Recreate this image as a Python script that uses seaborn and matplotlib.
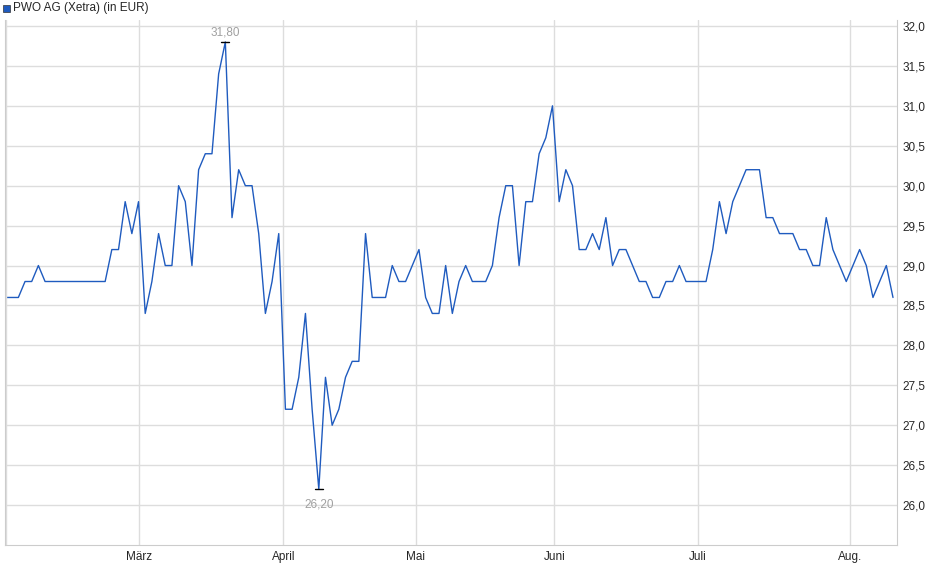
import matplotlib

matplotlib.use("Agg")

import matplotlib.pyplot as plt
import numpy as np
import pandas as pd
import seaborn as sns

prices = [
    28.6, 28.6, 28.6, 28.8, 28.8, 29.0, 28.8, 28.8, 28.8, 28.8, 28.8, 28.8, 28.8, 28.8, 28.8, 28.8,
    29.2, 29.2, 29.8, 29.4, 29.8, 28.4, 28.8, 29.4, 29.0, 29.0, 30.0, 29.8, 29.0, 30.2, 30.4, 30.4,
    31.4, 31.8, 29.6, 30.2, 30.0, 30.0, 29.4, 28.4, 28.8, 29.4, 27.2, 27.2, 27.6, 28.4, 27.2, 26.2,
    27.6, 27.0, 27.2, 27.6, 27.8, 27.8, 29.4, 28.6, 28.6, 28.6, 29.0, 28.8, 28.8, 29.0, 29.2, 28.6,
    28.4, 28.4, 29.0, 28.4, 28.8, 29.0, 28.8, 28.8, 28.8, 29.0, 29.6, 30.0, 30.0, 29.0, 29.8, 29.8,
    30.4, 30.6, 31.0, 29.8, 30.2, 30.0, 29.2, 29.2, 29.4, 29.2, 29.6, 29.0, 29.2, 29.2, 29.0, 28.8,
    28.8, 28.6, 28.6, 28.8, 28.8, 29.0, 28.8, 28.8, 28.8, 28.8, 29.2, 29.8, 29.4, 29.8, 30.0, 30.2,
    30.2, 30.2, 29.6, 29.6, 29.4, 29.4, 29.4, 29.2, 29.2, 29.0, 29.0, 29.6, 29.2, 29.0, 28.8, 29.0,
    29.2, 29.0, 28.6, 28.8, 29.0, 28.6,
]
month_labels = ["März", "April", "Mai", "Juni", "Juli", "Aug."]
month_pos = [20.1, 41.7, 61.5, 82.3, 103.8, 126.5]
y_ticks = [26.0, 26.5, 27.0, 27.5, 28.0, 28.5, 29.0, 29.5, 30.0, 30.5, 31.0, 31.5, 32.0]

df = pd.DataFrame({"idx": np.arange(len(prices)), "price": prices})

sns.set_style("white")
plt.rcParams["font.family"] = ["Liberation Sans", "DejaVu Sans"]

fig = plt.figure(figsize=(9.4, 5.79), dpi=100)
ax = fig.add_axes([5 / 940, 34 / 579, 892 / 940, 525 / 579])
sns.lineplot(data=df, x="idx", y="price", ax=ax, color="#1f5bbf", linewidth=1.0)

ax.set_xlim(0, len(prices) - 1 + 0.6)
ax.set_ylim(25.5, 32.075)
ax.set_yticks(y_ticks)
ax.set_yticklabels([f"{v:.1f}".replace(".", ",") for v in y_ticks], fontsize=8.5)
ax.yaxis.tick_right()
ax.set_xticks(month_pos)
ax.set_xticklabels(month_labels, fontsize=8.5)
ax.tick_params(length=0, pad=4)
ax.grid(True, color="#dddddd", linewidth=1)
ax.axvline(0.1, color="#dddddd", linewidth=1)
ax.set_xlabel("")
ax.set_ylabel("")
for s in ax.spines.values():
    s.set_color("#cccccc")
ax.spines["top"].set_visible(False)

i_max, i_min = int(np.argmax(prices)), int(np.argmin(prices))
for i, off in ((i_max, 7), (i_min, -11)):
    v = prices[i]
    ax.plot([i - 0.6, i + 0.6], [v, v], color="black", linewidth=1)
    ax.annotate(f"{v:.2f}".replace(".", ","), (i, v), xytext=(0, off), textcoords="offset points",
                ha="center", va="center", fontsize=8.5, color="#a0a0a0")

fig.patches.append(plt.Rectangle((3 / 940, 1 - 12 / 579), 7 / 940, 7 / 579, transform=fig.transFigure,
                                 facecolor="#1f5bbf", edgecolor="#333333", linewidth=0.5))
fig.text(13 / 940, 1 - 8 / 579, "PWO AG (Xetra) (in EUR)", fontsize=8.5, va="center")

fig.savefig("out.png", dpi=100)
